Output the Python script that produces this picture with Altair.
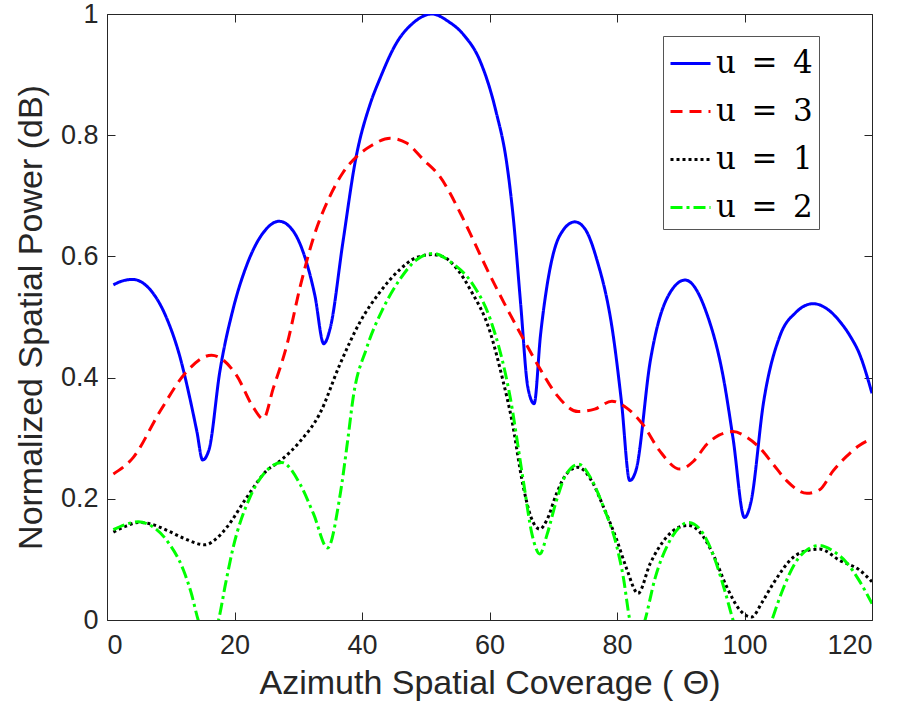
import altair as alt
import pandas as pd

# ---- data ----
series_names = ["u = 4", "u = 3", "u = 1", "u = 2"]
series_colors = ["#0000ff", "#ff0000", "#000000", "#00ff00"]
series_dashes = [[1, 0], [12, 7], [3, 3], [12, 4, 3, 4]]

x_ticks = [0, 20, 40, 60, 80, 100, 120]
y_ticks = [0, 0.2, 0.4, 0.6, 0.8, 1]

u4_x = [1, 2, 4, 6.7, 9.4, 11.5, 13, 14.1, 15, 16, 17.7, 19.8, 21.9, 24.5, 27, 29.2,
        31.3, 32.6, 34, 35, 37, 39, 41.3, 42.8, 45.4, 48, 51, 53.5, 56, 58.5, 61,
        62.7, 63.7, 64.9, 66, 67, 68, 69, 71, 73.4, 75, 76.8, 79.4, 80.7, 82, 83,
        85.2, 87.8, 90.7, 94, 96.7, 98.2, 100, 101, 103, 105.6, 108, 110.8, 113,
        115, 116.6, 118, 120]
u4_y = [0.553, 0.558, 0.562, 0.546, 0.497, 0.432, 0.366, 0.311, 0.264, 0.281, 0.41,
        0.514, 0.585, 0.639, 0.658, 0.642, 0.59, 0.536, 0.456, 0.481, 0.623, 0.76,
        0.852, 0.893, 0.952, 0.985, 1.0, 0.988, 0.965, 0.923, 0.84, 0.754, 0.667,
        0.52, 0.385, 0.357, 0.47, 0.55, 0.634, 0.657, 0.645, 0.596, 0.47, 0.36,
        0.23, 0.248, 0.426, 0.53, 0.561, 0.508, 0.399, 0.30, 0.169, 0.194, 0.36,
        0.47, 0.507, 0.522, 0.513, 0.492, 0.468, 0.44, 0.374]

u3_x = [1, 4.1, 8.3, 12.5, 16.4, 20.3, 23, 24.5, 26.1, 28.2, 30.3, 32.3, 35, 37,
        39.2, 41.5, 44.4, 47, 49.6, 52.2, 55.4, 57.5, 59.6, 62.2, 65.3, 67.9, 70.5,
        73.9, 76.5, 79.2, 81.5, 84.1, 86.7, 89.9, 92, 94.1, 96, 98.2, 100.3, 102.4,
        104.5, 106.6, 109.8, 111.8, 113.9, 116, 118, 120]
u3_y = [0.241, 0.268, 0.344, 0.41, 0.437, 0.404, 0.35, 0.332, 0.383, 0.453, 0.55,
        0.628, 0.70, 0.738, 0.765, 0.783, 0.795, 0.787, 0.76, 0.732, 0.672, 0.626,
        0.579, 0.525, 0.464, 0.415, 0.372, 0.344, 0.348, 0.361, 0.35, 0.322, 0.279,
        0.249, 0.262, 0.29, 0.305, 0.311, 0.302, 0.284, 0.257, 0.23, 0.209, 0.215,
        0.246, 0.27, 0.288, 0.299]

u1_x = [1, 3, 4.9, 7, 9.4, 12, 15.4, 17, 18.8, 21.9, 25, 27.1, 30.3, 33.4, 36.5,
        39.7, 42.8, 46, 48.5, 51, 53, 55, 57, 60.1, 62, 63.5, 65.3, 66.5, 67.9, 69,
        70.5, 72, 73.9, 76, 77.9, 80, 81.5, 83.3, 85.2, 87.8, 89.5, 91.2, 93, 95,
        97.2, 99.3, 101.1, 102.8, 104.5, 107.7, 110, 111.8, 115, 118.1, 120]
u1_y = [0.145, 0.155, 0.161, 0.158, 0.148, 0.135, 0.124, 0.133, 0.153, 0.202, 0.246,
        0.262, 0.295, 0.341, 0.421, 0.492, 0.541, 0.579, 0.598, 0.603, 0.598, 0.578,
        0.545, 0.475, 0.40, 0.33, 0.22, 0.17, 0.15, 0.165, 0.208, 0.24, 0.252, 0.23,
        0.186, 0.131, 0.085, 0.044, 0.093, 0.137, 0.152, 0.156, 0.145, 0.11, 0.055,
        0.016, 0.005, 0.03, 0.06, 0.104, 0.115, 0.117, 0.098, 0.082, 0.063]

u2_x = [1, 3, 4.9, 7, 9.4, 12, 13.2, 14.3, 15.8, 17.5, 18.6, 19.8, 22.4, 25, 27.4,
        30.3, 32.4, 34.6, 36.5, 37.8, 38.6, 40.7, 43.3, 46, 48.5, 51.2, 54, 57.5,
        60.1, 63.2, 65.3, 66.7, 67.9, 69, 70.5, 72, 74, 76, 77.9, 80, 81, 82, 83.2,
        84.4, 86, 88, 90, 91.2, 93, 95, 97, 98.2, 100, 101.3, 103, 104.3, 106, 108,
        110, 111.8, 114, 116, 118, 120]
u2_y = [0.149, 0.158, 0.162, 0.155, 0.131, 0.082, 0.045, 0.0, -0.04, 0.0, 0.06, 0.12,
        0.202, 0.246, 0.26, 0.224, 0.175, 0.119, 0.202, 0.30, 0.366, 0.448, 0.514,
        0.563, 0.594, 0.605, 0.59, 0.552, 0.497, 0.37, 0.23, 0.14, 0.109, 0.14,
        0.197, 0.24, 0.257, 0.232, 0.186, 0.12, 0.07, 0.0, -0.04, 0.0, 0.07, 0.125,
        0.155, 0.161, 0.15, 0.11, 0.045, 0.0, -0.05, -0.07, -0.04, 0.0, 0.05, 0.095,
        0.117, 0.123, 0.113, 0.095, 0.065, 0.027]

series_data = [(u4_x, u4_y), (u3_x, u3_y), (u1_x, u1_y), (u2_x, u2_y)]

rows = []
for name, (xs, ys) in zip(series_names, series_data):
    for xv, yv in zip(xs, ys):
        rows.append({"x": xv, "y": yv, "series": name})
df = pd.DataFrame(rows)

x_scale = alt.Scale(domain=[0, 120], nice=False, zero=False)
y_scale = alt.Scale(domain=[0, 1], nice=False, zero=False)

ES = "\u2002"
legend = alt.Legend(
    title="",
    orient="none",
    legendX=556,
    legendY=22,
    padding=6,
    rowPadding=11,
    symbolType="stroke",
    symbolSize=1600,
    symbolStrokeWidth=3,
    labelFont="DejaVu Serif",
    labelFontSize=31,
    labelColor="#000000",
    labelOffset=4,
    strokeColor="#555555",
    fillColor="#ffffff",
    labelExpr=f"replace(replace(datum.label, ' ', '{ES}'), ' ', '{ES}')",
)

lines = alt.Chart(df).mark_line(clip=True, strokeWidth=3, interpolate="monotone").encode(
    x=alt.X("x:Q", scale=x_scale,
            axis=alt.Axis(values=x_ticks, orient="bottom", offset=-8, domain=False,
                          tickSize=8, labelPadding=12, format="d",
                          title="Azimuth Spatial Coverage ( \u0398)", titlePadding=8)),
    y=alt.Y("y:Q", scale=y_scale,
            axis=alt.Axis(values=y_ticks, orient="left", offset=-8, domain=False,
                          tickSize=8, labelPadding=9, format="~g",
                          title="Normalized Spatial Power (dB)", titlePadding=12)),
    color=alt.Color("series:N", scale=alt.Scale(domain=series_names, range=series_colors),
                    legend=legend),
    strokeDash=alt.StrokeDash("series:N",
                              scale=alt.Scale(domain=series_names, range=series_dashes),
                              legend=legend),
)

frame = alt.Chart(df).mark_point(opacity=0).encode(
    x=alt.X("x:Q", scale=x_scale,
            axis=alt.Axis(values=x_ticks, orient="top", offset=-8, domain=False,
                          tickSize=8, labels=False, title="")),
    y=alt.Y("y:Q", scale=y_scale,
            axis=alt.Axis(values=y_ticks, orient="right", offset=-8, domain=False,
                          tickSize=8, labels=False, title="")),
)

chart = (
    alt.layer(lines, frame)
    .resolve_scale(x="independent", y="independent")
    .properties(
        width=765,
        height=606,
        autosize=alt.AutoSizeParams(type="none"),
        padding={"left": 107, "top": 14, "right": 32, "bottom": 103},
    )
    .configure_view(stroke="#262626", strokeWidth=1)
    .configure_axis(
        grid=False,
        labelFont="Liberation Sans",
        labelFontSize=27,
        labelColor="#262626",
        titleFont="Liberation Sans",
        titleFontSize=34,
        titleFontWeight="normal",
        titleColor="#262626",
        tickColor="#262626",
        tickWidth=1,
    )
)

chart.save("out.html", embed_options={"renderer": "svg", "actions": False})
